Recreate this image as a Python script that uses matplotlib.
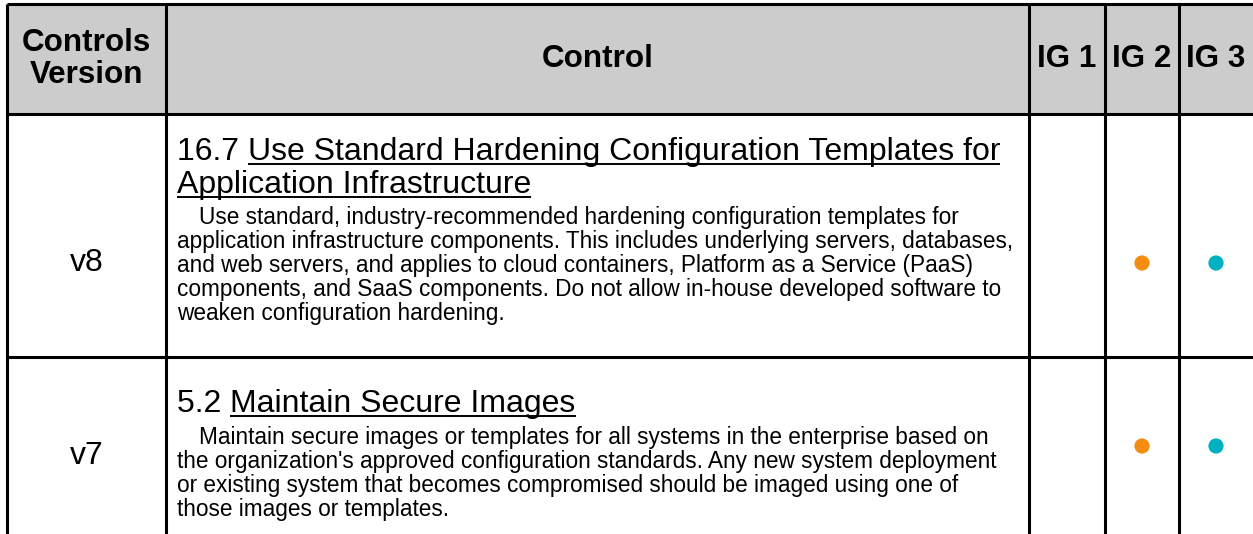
import matplotlib
matplotlib.use("Agg")
import matplotlib.pyplot as plt
from matplotlib.patches import Rectangle

# ---------------- data ----------------
header_labels = ["Controls\nVersion", "Control", "IG 1", "IG 2", "IG 3"]
versions = ["v8", "v7"]
control_ids = ["16.7", "5.2"]
control_titles = [
    ["Use Standard Hardening Configuration Templates for", "Application Infrastructure"],
    ["Maintain Secure Images"],
]
descriptions = [
    [
        "Use standard, industry-recommended hardening configuration templates for",
        "application infrastructure components. This includes underlying servers, databases,",
        "and web servers, and applies to cloud containers, Platform as a Service (PaaS)",
        "components, and SaaS components. Do not allow in-house developed software to",
        "weaken configuration hardening.",
    ],
    [
        "Maintain secure images or templates for all systems in the enterprise based on",
        "the organization's approved configuration standards. Any new system deployment",
        "or existing system that becomes compromised should be imaged using one of",
        "those images or templates.",
    ],
]
ig1 = [False, False]
ig2 = [True, True]
ig3 = [True, True]
ig_colors = ["#f28d12", "#f28d12", "#01b1c1"]

# ---------------- layout ----------------
W, H = 1253, 534
col_edges = [7, 166, 1029, 1105, 1179, 1253]
row_edges = [4, 114, 357, 534]
title_base = [[160, 193], [412]]
body_base = [[224, 248, 272, 296, 320], [444, 468, 492, 516]]
version_y = [263, 456]
dot_y = [263, 446]
text_x = 177
indent = 22
FONT = ["Liberation Sans", "DejaVu Sans"]
TITLE_FS = 23
BODY_FS = 16.3
HEAD_FS = 22.6

fig = plt.figure(figsize=(W / 100, H / 100), dpi=100)
ax = fig.add_axes([0, 0, 1, 1])
ax.set_xlim(0, W)
ax.set_ylim(H, 0)
ax.axis("off")

# header background
ax.add_patch(Rectangle((col_edges[0], row_edges[0]), W - col_edges[0],
                       row_edges[1] - row_edges[0], facecolor="#cccccc",
                       edgecolor="none", zorder=0))

lw = 2.2
for x in col_edges[:-1]:
    ax.plot([x, x], [row_edges[0], H], color="black", lw=lw,
            solid_capstyle="butt", zorder=3)
for y in row_edges[:-1]:
    ax.plot([col_edges[0], W], [y, y], color="black", lw=lw,
            solid_capstyle="butt", zorder=3)

# header texts
hy = (row_edges[0] + row_edges[1]) / 2
for i, lab in enumerate(header_labels):
    cx = (col_edges[i] + col_edges[i + 1]) / 2
    ax.text(cx, hy, lab, ha="center", va="center", fontsize=HEAD_FS,
            fontweight="bold", family=FONT, linespacing=1.05, color="black")

fig.canvas.draw()
renderer = fig.canvas.get_renderer()
inv = ax.transData.inverted()


def width_data(t):
    bb = t.get_window_extent(renderer)
    p0 = inv.transform((bb.x0, bb.y0))
    p1 = inv.transform((bb.x1, bb.y0))
    return p1[0] - p0[0]


ig_cols = [ig1, ig2, ig3]
for r in range(len(versions)):
    # version
    ax.text((col_edges[0] + col_edges[1]) / 2, version_y[r], versions[r],
            ha="center", va="center", fontsize=TITLE_FS, family=FONT, color="black")
    # title with underline
    for li, line in enumerate(control_titles[r]):
        yb = title_base[r][li]
        x0 = text_x
        if li == 0:
            t = ax.text(x0, yb, control_ids[r] + " ", ha="left", va="baseline",
                        fontsize=TITLE_FS, family=FONT, color="black")
            x0 += width_data(t)
        t2 = ax.text(x0, yb, line, ha="left", va="baseline", fontsize=TITLE_FS,
                     family=FONT, color="black")
        w = width_data(t2)
        ax.plot([x0, x0 + w], [yb + 3.5, yb + 3.5], color="black", lw=1.4,
                solid_capstyle="butt")
    # description
    for li, line in enumerate(descriptions[r]):
        x = text_x + (indent if li == 0 else 0)
        ax.text(x, body_base[r][li], line, ha="left", va="baseline",
                fontsize=BODY_FS, family=FONT, color="black")
    # dots
    for k in range(3):
        if ig_cols[k][r]:
            cx = (col_edges[2 + k] + col_edges[3 + k]) / 2
            ax.scatter([cx], [dot_y[r]], s=120, color=ig_colors[k],
                       edgecolors="none", zorder=4)

fig.savefig("out.png", dpi=100)
